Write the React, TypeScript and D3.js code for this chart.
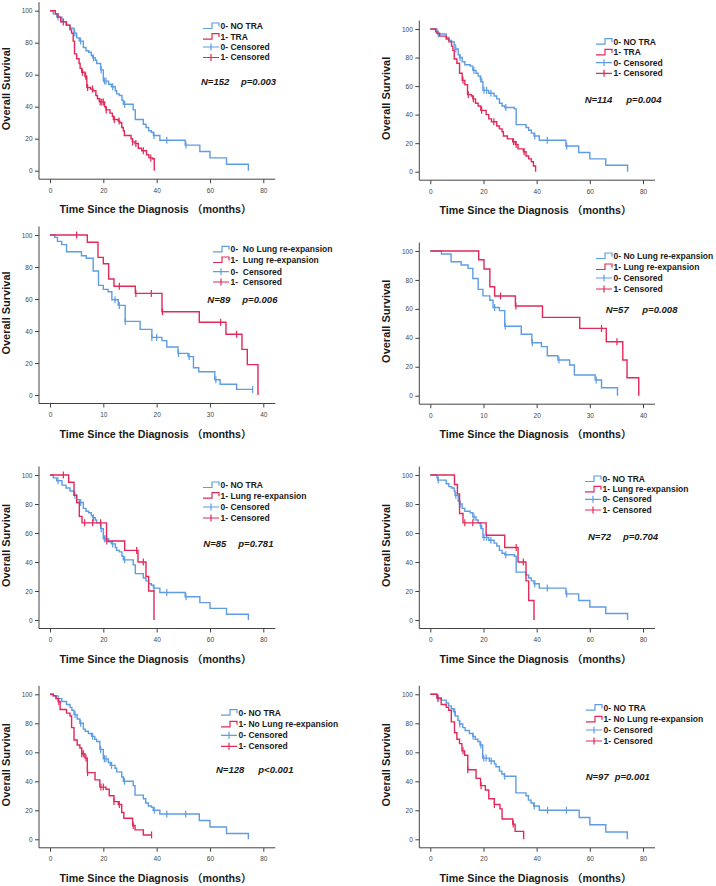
import * as d3 from "d3";
import { useEffect, useRef } from "react";

// axis ticks
const yTickValues = [0, 20, 40, 60, 80, 100];
const xTicks80 = [0, 20, 40, 60, 80];
const xTicks40 = [0, 10, 20, 30, 40];

// survival steps: [month, survival % after the drop]; censored: months
// NO TRA (panels 1 and 5)
const blue1Steps = [[1.2, 98], [2.5, 96], [4.5, 93], [6, 91], [7.5, 89], [9, 86], [10, 83], [11, 81], [12.5, 77], [13.5, 75], [14.5, 74], [15.5, 72], [16, 70.5], [17, 69], [17.5, 67], [19, 63], [20, 56], [22, 54], [23, 52.5], [24.5, 50], [25, 48], [26, 47], [27, 44], [27.5, 41.5], [31.2, 38], [32, 32], [35, 29], [36, 27], [37, 25], [38, 24], [38.8, 22], [41.2, 19], [50.7, 16], [56.2, 12], [60, 8], [66.2, 4], [74.4, 0]];
const blue1Censored = [3, 9.3, 11.5, 16.3, 19.2, 20.4, 21, 23.5, 28, 39, 43.8, 51];
const red1Steps = [[2, 98], [3, 96], [4, 93], [6.2, 91], [7.5, 88], [8.1, 86], [8.7, 81], [9.2, 73], [10, 70], [10.9, 67], [11.3, 64], [11.9, 61.5], [13.1, 59], [13.8, 52], [15.2, 51], [16.2, 50], [17.2, 47], [17.8, 45], [18.5, 43], [20.5, 40], [21, 38], [22.5, 36], [23.4, 34], [23.8, 32], [25.6, 31], [26.2, 30], [26.9, 27], [27.5, 25], [27.9, 22], [30.4, 20], [30.9, 18], [31.9, 17], [33.1, 14], [34.4, 12.5], [36.2, 10], [37.1, 8], [38.5, 7.5], [39.1, 0]];
const red1Censored = [5, 12.2, 13.4, 14.1, 15.9, 18.8, 19.4, 20, 21.1, 24.1, 25.9, 31, 32.2, 35, 37.8];

// NO TRA (panels 2 and 6)
const blue2Steps = [[2.5, 98], [2.8, 96.5], [6, 94], [7, 92], [8, 91], [9, 89], [9.3, 86], [10.5, 82], [11, 80], [12, 77], [13, 75], [15, 74], [16, 71], [17.2, 69], [18, 67], [18.8, 65], [19.3, 63], [19.8, 57], [22, 55], [24, 53], [25, 51], [26, 48], [27, 46], [28, 45], [31.6, 44], [32.3, 33], [36, 31], [37, 29], [38, 27], [39, 25], [41, 22], [51, 18], [55.8, 13.5], [60, 9], [66, 4.5], [74.2, 0]];
const blue2Censored = [3, 9.6, 11.2, 16.4, 19, 20.2, 21.2, 22.8, 28.4, 39.3, 44, 51.3];
const red2Steps = [[2, 98], [2.5, 97], [3.5, 95], [6, 93], [7, 91], [8, 88], [8.5, 85], [9, 79], [10, 76], [11, 69], [12, 64], [13, 61], [14, 54], [15.5, 53], [16, 51], [17, 48], [18, 46], [19, 43], [21, 40], [22, 37], [23, 35], [25, 32], [26, 30], [27, 28], [27.5, 25], [29, 23], [31, 21], [32, 19], [33, 16], [35, 14], [36, 11], [37, 9], [38, 7], [38.8, 4], [39.6, 0]];
const red2Censored = [12.3, 14.3, 16.2, 19.3, 23.9, 31.3, 32.3, 35.3];

// panel 3
const blue3Steps = [[0.9, 98.5], [1.4, 96], [2.2, 94], [3.1, 89.5], [5.9, 87], [6.8, 85.5], [8.1, 77.5], [9.1, 68.5], [10, 66], [10.9, 64.5], [11.6, 59.5], [12.8, 56], [14.1, 46], [16.9, 41], [19.1, 36], [21, 34], [21.9, 30], [24, 26], [25.9, 24], [26.9, 17], [27.9, 14.5], [30.9, 9.5], [31.9, 6.7], [35, 3.5]];
const blue3Censored = [12.2, 13, 14.1, 19.1, 20, 24.1, 26.1, 31.1, 38];
const red3Steps = [[7, 95.5], [9, 86], [10, 82], [11, 72.5], [12, 68], [16, 63.5], [21, 52], [28, 45.5], [33, 38], [36, 28.5], [37, 19], [39, 0]];
const red3Censored = [5, 13, 16.1, 19, 21.1, 32, 35];

// panel 4
const blue4Steps = [[2.1, 97.9], [3.9, 92.6], [5.8, 90.3], [7.1, 88], [8, 81], [9, 73.5], [9.9, 69], [11.2, 66], [11.8, 61], [13, 58.8], [14, 48], [17.1, 42.5], [19.1, 36.6], [20.9, 33.9], [22, 27.6], [24, 24.7], [26.2, 21.2], [27.1, 14.3], [31, 10.8], [32.2, 5.5], [35.2, 0]];
const blue4Censored = [12.1, 14.1, 19.2, 24.2, 31.2];
const red4Steps = [[9.1, 94], [10.1, 87.6], [11.2, 75.3], [12.1, 68.9], [16, 62], [21.1, 54.1], [28.1, 46.5], [33.1, 37.3], [36.2, 24.7], [37, 12.4], [39.2, 0]];
const red4Censored = [13.2, 16.1, 32.2, 35.1];

// panel 5 / 6 lung re-expansion
const red5Steps = [[7, 95], [9, 86], [10, 81], [11, 71.5], [12, 67], [21.2, 54.5], [28, 48], [33, 40], [36, 30], [37, 20], [39, 0]];
const red5Censored = [5, 13, 16, 19, 21.3, 32.5, 35];
const red6Steps = [[9.1, 93.5], [10.2, 87], [11, 73.5], [12.3, 67], [21, 58.5], [28, 50], [33, 40], [36, 27], [37, 13.5], [39, 0]];
const red6Censored = [13, 16, 32.3, 35];

// panel 7
const blue7Steps = [[1.2, 99], [2.5, 97], [4.4, 95], [6.2, 93], [7.5, 91], [8.2, 89], [9, 86], [10.2, 83], [11.2, 80], [12.5, 76], [13.2, 74.5], [14.4, 73], [15.6, 71], [16.8, 69], [17.5, 67.5], [18.7, 62], [20, 55.5], [21.9, 53], [22.6, 51], [24.4, 49], [25, 46.5], [26.9, 43], [27.5, 40], [31.2, 37], [31.9, 30.5], [35, 28], [35.9, 25], [36.9, 23], [38.1, 22], [38.7, 20], [41.2, 17.5], [56, 13], [60, 8.5], [66.2, 4], [74.4, 0]];
const blue7Censored = [3.1, 9.4, 11.5, 16, 19, 20.4, 21, 23.1, 27.9, 39.1, 43.8, 50.9];
const red7Steps = [[1.2, 99], [2.2, 97], [3.1, 95], [3.8, 89.5], [6.2, 87], [7.5, 85], [8.1, 77], [9, 68.5], [10.2, 65], [11.2, 63], [11.9, 59], [13.1, 56], [14, 46], [16.9, 41], [18.7, 36], [21, 34.5], [22.2, 30], [24, 26], [25.6, 24], [26.9, 18.5], [27.7, 14.5], [31, 9.5], [31.9, 6.5], [35, 3]];
const red7Censored = [3.3, 11.9, 12.5, 13.5, 14.1, 19.1, 20, 24, 26, 31.2, 38.1];

// panel 8
const blue8Steps = [[2.5, 97], [4.1, 96], [6, 94], [6.9, 92], [7.9, 90], [8.7, 88], [9.4, 85], [10.4, 82], [11, 79.5], [12.2, 77], [13.1, 75], [14.7, 73], [16, 71], [16.9, 69], [17.9, 67.5], [18.7, 65], [19.7, 56], [22.2, 54], [24.1, 52], [24.7, 50], [26, 47], [26.9, 45], [27.8, 43.5], [32.2, 32], [36, 30], [36.9, 27], [37.9, 25], [38.9, 23], [41, 20], [56, 15], [60, 10], [66, 5], [74.1, 0]];
const blue8Censored = [2.9, 9.2, 11.1, 16.1, 19, 20.1, 21, 22.9, 28, 39.1, 44.1, 51.2];
const red8Steps = [[2.5, 97.5], [4.1, 93], [6, 91], [6.9, 89], [7.9, 81], [9.1, 73.5], [10, 69], [11, 66], [11.9, 61], [12.9, 58], [14.1, 48], [17.2, 42], [18.9, 37], [20.7, 34], [22, 28], [24.1, 24], [26.2, 21], [27, 14], [31, 10.5], [31.9, 5.5], [35.1, 0]];
const red8Censored = [2.9, 12.3, 14.1, 19.1, 24.1, 31.2];

// legend labels
const legendTra = ["0- NO TRA", "1- TRA", "0- Censored", "1- Censored"];
const legendLung = ["0-  No Lung re-expansion", "1-  Lung re-expansion", "0-  Censored", "1-  Censored"];
const legendLung2 = ["0- No Lung re-expansion", "1- Lung re-expansion", "0- Censored", "1- Censored"];
const legendTraLung = ["0- NO TRA", "1- Lung re-expansion", "0- Censored", "1- Censored"];
const legendTraNoLung = ["0- NO TRA", "1- No Lung re-expansion", "0- Censored", "1- Censored"];

const nLabels = ["N=152", "N=114", "N=89", "N=57", "N=85", "N=72", "N=128", "N=97"];
const pLabels = ["p=0.003", "p=0.004", "p=0.006", "p=0.008", "p=0.781", "p=0.704", "p<0.001", "p=0.001"];

const BLUE = "#5e9de4";
const RED = "#e3285a";
const FONT = "'Liberation Sans', Arial, 'Noto Sans CJK SC', sans-serif";

// panel layout
const panels = [
  { x0: 50, x1: 263.3, y100: 10.7, y0: 170.7, xTicks: xTicks80, blue: [blue1Steps, blue1Censored], red: [red1Steps, red1Censored], legend: legendTra, legX: 203, legY: [26, 36.6, 47, 57.5], nX: 201, pX: 241, npY: 82 },
  { x0: 430.3, x1: 643, y100: 29, y0: 171.7, xTicks: xTicks80, blue: [blue2Steps, blue2Censored], red: [red2Steps, red2Censored], legend: legendTra, legX: 596, legY: [41.7, 52.3, 62.7, 73.3], nX: 584.7, pX: 626.3, npY: 100 },
  { x0: 50, x1: 263.3, y100: 235, y0: 395, xTicks: xTicks40, blue: [blue3Steps, blue3Censored], red: [red3Steps, red3Censored], legend: legendLung, legX: 213, legY: [249.3, 260, 271.7, 282], nX: 207.3, pX: 242.3, npY: 300 },
  { x0: 430.3, x1: 643, y100: 251, y0: 395.7, xTicks: xTicks40, blue: [blue4Steps, blue4Censored], red: [red4Steps, red4Censored], legend: legendLung2, legX: 596, legY: [256, 267, 278, 289], nX: 605.7, pX: 642.3, npY: 310 },
  { x0: 50, x1: 263.3, y100: 475, y0: 620, xTicks: xTicks80, blue: [blue1Steps, blue1Censored], red: [red5Steps, red5Censored], legend: legendTraLung, legX: 203, legY: [485, 495.7, 507, 518], nX: 203.3, pX: 238.3, npY: 544 },
  { x0: 430.3, x1: 643, y100: 475, y0: 620, xTicks: xTicks80, blue: [blue2Steps, blue2Censored], red: [red6Steps, red6Censored], legend: legendTraLung, legX: 585, legY: [479, 489.3, 499.3, 510], nX: 588, pX: 623, npY: 536.7 },
  { x0: 50, x1: 263.3, y100: 694.3, y0: 839.3, xTicks: xTicks80, blue: [blue7Steps, blue7Censored], red: [red7Steps, red7Censored], legend: legendTraNoLung, legX: 221, legY: [712.7, 724.3, 735.3, 746.3], nX: 216, pX: 258.3, npY: 769.3 },
  { x0: 430.3, x1: 643, y100: 694.3, y0: 839.3, xTicks: xTicks80, blue: [blue8Steps, blue8Censored], red: [red8Steps, red8Censored], legend: legendTraNoLung, legX: 586, legY: [707.7, 719.3, 730, 741], nX: 585.7, pX: 614.7, npY: 776.7 },
];

function survivalAt(steps: number[][], t: number) {
  let s = 100;
  for (const [ti, si] of steps) if (ti <= t) s = si;
  return s;
}

function App() {
  const ref = useRef<SVGSVGElement>(null);

  useEffect(() => {
    const svg = d3.select(ref.current);
    svg.selectAll("*").remove();

    panels.forEach((p, i) => {
      const g = svg.append("g");
      const xmax = p.xTicks[p.xTicks.length - 1];
      const x = d3.scaleLinear().domain([0, xmax]).range([p.x0, p.x1]);
      const y = d3.scaleLinear().domain([0, 100]).range([p.y0, p.y100]);
      const axisX = p.x0 - 11;
      const axisY = p.y0 + 8.5;

      // x axis
      const gx = g
        .append("g")
        .attr("transform", `translate(0,${axisY})`)
        .call(d3.axisBottom(x).tickValues(p.xTicks).tickSize(4).tickPadding(5));
      gx.select(".domain").remove();
      gx.append("line")
        .attr("x1", axisX).attr("x2", p.x1 + 12)
        .attr("stroke", "#444");
      gx.selectAll(".tick line").attr("stroke", "#444");
      gx.selectAll("text").attr("fill", "#444");
      gx.attr("font-size", 6.5).attr("font-family", FONT);

      // y axis
      const gy = g
        .append("g")
        .attr("transform", `translate(${axisX},0)`)
        .call(d3.axisLeft(y).tickValues(yTickValues).tickSize(4).tickPadding(2.5));
      gy.select(".domain").remove();
      gy.append("line")
        .attr("y1", p.y100 - 8.5).attr("y2", axisY)
        .attr("stroke", "#444");
      gy.selectAll(".tick line").attr("stroke", "#444");
      gy.selectAll("text").attr("fill", "#444");
      gy.attr("font-size", 6.5).attr("font-family", FONT);

      // axis titles
      g.append("text")
        .attr("x", (p.x0 + p.x1) / 2 - 1)
        .attr("y", axisY + 30.5)
        .attr("dy", "0.35em")
        .attr("text-anchor", "middle")
        .attr("font-family", FONT)
        .attr("font-weight", "bold")
        .attr("font-size", 10.7)
        .attr("fill", "#1a1a1a")
        .text("Time Since the Diagnosis （months）");

      g.append("text")
        .attr("transform", `translate(${axisX - 29},${(p.y0 + p.y100) / 2 - 2}) rotate(-90)`)
        .attr("text-anchor", "middle")
        .attr("font-family", FONT)
        .attr("font-weight", "bold")
        .attr("font-size", 11)
        .attr("fill", "#1a1a1a")
        .text("Overall Survival");

      // curves
      const line = d3
        .line<number[]>()
        .x((d) => x(d[0]))
        .y((d) => y(d[1]))
        .curve(d3.curveStepAfter);

      const drawCurve = (steps: number[][], censored: number[], color: string) => {
        const pts = [[0, 100], ...steps];
        const last = steps[steps.length - 1];
        const lastCens = d3.max(censored) ?? 0;
        if (last[1] > 0 && lastCens > last[0]) pts.push([lastCens, last[1]]);
        g.append("path")
          .attr("d", line(pts))
          .attr("fill", "none")
          .attr("stroke", color)
          .attr("stroke-width", 1.4);
        g.selectAll(null)
          .data(censored)
          .join("line")
          .attr("x1", (d) => x(d))
          .attr("x2", (d) => x(d))
          .attr("y1", (d) => y(survivalAt(steps, d)) - 3.5)
          .attr("y2", (d) => y(survivalAt(steps, d)) + 3.5)
          .attr("stroke", color)
          .attr("stroke-width", 1.2);
      };
      drawCurve(p.blue[0] as number[][], p.blue[1] as number[], BLUE);
      drawCurve(p.red[0] as number[][], p.red[1] as number[], RED);

      // legend
      const colors = [BLUE, RED, BLUE, RED];
      p.legend.forEach((label, k) => {
        const ly = p.legY[k];
        const lx = p.legX;
        if (k < 2) {
          g.append("path")
            .attr("d", `M${lx},${ly + 2.5}H${lx + 9}V${ly - 3}H${lx + 16}V${ly + 0.5}`)
            .attr("fill", "none")
            .attr("stroke", colors[k])
            .attr("stroke-width", 1.2);
        } else {
          g.append("path")
            .attr("d", `M${lx},${ly}H${lx + 16}M${lx + 8},${ly - 3.5}V${ly + 3.5}`)
            .attr("fill", "none")
            .attr("stroke", colors[k])
            .attr("stroke-width", 1.2);
        }
        g.append("text")
          .attr("x", lx + 17.5)
          .attr("y", ly)
          .attr("dy", "0.35em")
          .attr("font-family", FONT)
          .attr("font-weight", "bold")
          .attr("font-size", 8.5)
          .attr("fill", "#1a1a1a")
          .style("white-space", "pre")
          .text(label);
      });

      // N and p
      [[p.nX, nLabels[i]], [p.pX, pLabels[i]]].forEach(([tx, t]) => {
        g.append("text")
          .attr("x", tx as number)
          .attr("y", p.npY)
          .attr("dy", "0.35em")
          .attr("font-family", FONT)
          .attr("font-weight", "bold")
          .attr("font-style", "italic")
          .attr("font-size", 9.5)
          .attr("fill", "#1a1a1a")
          .text(t as string);
      });
    });
  }, []);

  return (
    <svg
      ref={ref}
      width={716}
      height={886}
      style={{ position: "absolute", left: 0, top: 0, background: "#fff" }}
    />
  );
}

export default App;
